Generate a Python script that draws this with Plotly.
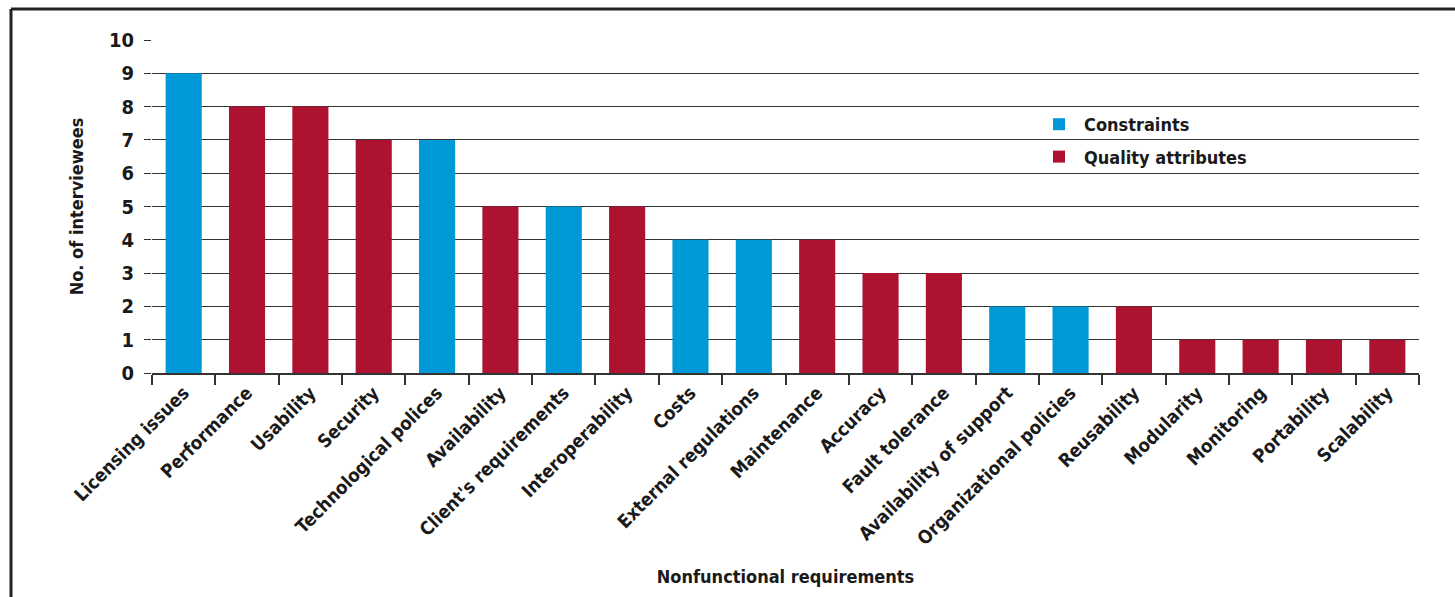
import plotly.graph_objects as go

categories = ["Licensing issues", "Performance", "Usability", "Security", "Technological polices",
              "Availability", "Client's requirements", "Interoperability", "Costs", "External regulations",
              "Maintenance", "Accuracy", "Fault tolerance", "Availability of support",
              "Organizational policies", "Reusability", "Modularity", "Monitoring", "Portability", "Scalability"]
values = [9, 8, 8, 7, 7, 5, 5, 5, 4, 4, 4, 3, 3, 2, 2, 2, 1, 1, 1, 1]
kinds = ["C", "Q", "Q", "Q", "C", "Q", "C", "Q", "C", "C", "Q", "Q", "Q", "C", "C", "Q", "Q", "Q", "Q", "Q"]
series_names = {"C": "Constraints", "Q": "Quality attributes"}
series_colors = {"C": "#0099d8", "Q": "#ad1230"}
y_ticks = list(range(0, 11))

FONT = "DejaVu Sans Condensed, DejaVu Sans, sans-serif"

fig = go.Figure()
for k in ["C", "Q"]:
    xs = [c for c, kk in zip(categories, kinds) if kk == k]
    ys = [v for v, kk in zip(values, kinds) if kk == k]
    fig.add_trace(go.Bar(x=xs, y=ys, name=series_names[k], marker_color=series_colors[k],
                         marker_line_width=0, legendgroup=k))

L, R, T, B = 152, 36, 40, 224
W, H = 1455, 597
pw, ph = W - L - R, H - T - B

def px(x):
    return (x - L) / pw

def py(y):
    return (H - B - y) / ph

fig.update_layout(
    width=W, height=H,
    margin=dict(l=L, r=R, t=T, b=B),
    paper_bgcolor="white", plot_bgcolor="white",
    barmode="overlay", bargap=0.43,
    font=dict(family=FONT, color="#1a1a1a", size=18, weight="bold"),
    legend=dict(x=px(1034), y=py(106), xanchor="left", yanchor="top",
                font=dict(size=18, family=FONT, weight="bold"), bgcolor="rgba(0,0,0,0)",
                itemwidth=40, traceorder="grouped", tracegroupgap=6),
    xaxis=dict(type="category", categoryorder="array", categoryarray=categories,
               range=[-0.5, 19.5], tickangle=-45, tickson="boundaries", automargin=False,
               ticks="outside", ticklen=10, tickcolor="#333", tickwidth=1.5,
               showline=True, linecolor="#333", linewidth=1.5, showgrid=False,
               tickfont=dict(size=18.5, family=FONT, weight="bold"),
               title=dict(text="Nonfunctional requirements",
                          font=dict(size=18, family=FONT, weight="bold"), standoff=22)),
    yaxis=dict(range=[0, 10], tickvals=y_ticks, ticks="outside", ticklen=7, tickcolor="#333",
               tickwidth=1.3, showgrid=True, gridcolor="#333", gridwidth=1.3, zeroline=False,
               showline=False, ticklabelstandoff=6, automargin=False,
               tickfont=dict(size=20, family=FONT, weight="bold"),
               title=dict(text="No. of interviewees",
                          font=dict(size=18, family=FONT, weight="bold"), standoff=20)),
    shapes=[
        dict(type="line", xref="paper", yref="paper", x0=px(11), x1=px(1456), y0=py(9), y1=py(9),
             line=dict(color="#222", width=3)),
        dict(type="line", xref="paper", yref="paper", x0=px(11), x1=px(11), y0=py(9), y1=py(598),
             line=dict(color="#222", width=3)),
    ],
)

fig.write_html("out.html", config={"displayModeBar": False},
               post_script="document.body.style.margin='0px';")
